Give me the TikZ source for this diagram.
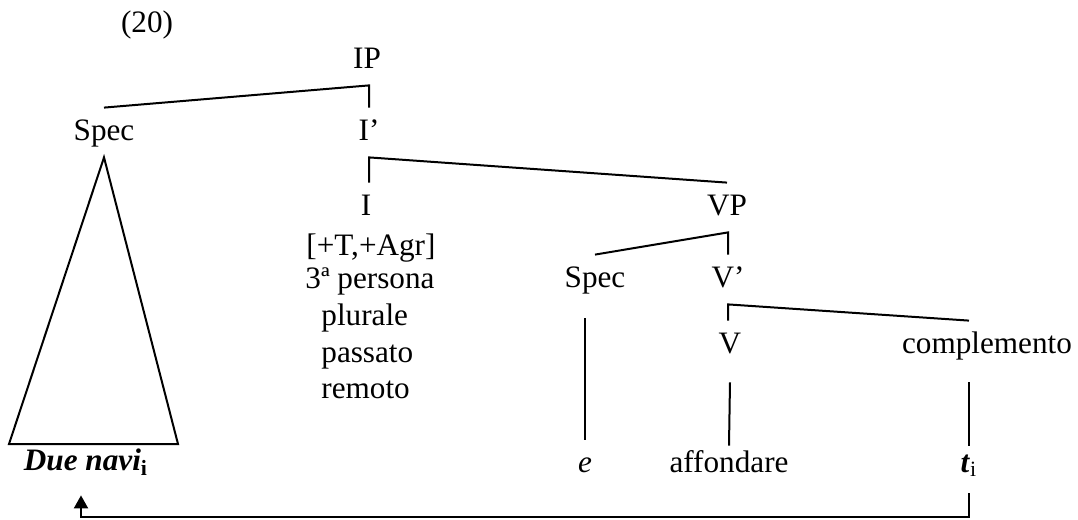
\documentclass[tikz,border=0pt]{standalone}
\usepackage{fontspec}
\setmainfont{Liberation Serif}
\usetikzlibrary{arrows.meta}
\begin{document}
\begin{tikzpicture}[x=0.5pt,y=-0.5pt,
  font=\fontsize{15.6pt}{18pt}\selectfont,
  lbl/.style={anchor=base,inner sep=0pt,text height=16pt,text depth=8.5pt},
  lblw/.style={anchor=base west,inner sep=0pt,text height=16pt,text depth=8.5pt},
  edge/.style={line width=1pt},
  mover/.style={line width=1pt,-{Triangle[width=7pt,length=6.5pt]}}]
\useasboundingbox (0,0) rectangle (1078,520);
% labels
\node[lbl] (num) at (147,32) {(20)};
\node[lbl] (ip) at (367,68) {IP};
\node[lbl] (spec1) at (104,140) {Spec};
\node[lbl] (ibar) at (369,140) {I’};
\node[lbl] (i) at (366,215) {I};
\node[lbl] (f1) at (371,255) {[+T,+Agr]};
\node[lbl] (f2) at (370,288) {3ª persona};
\node[lblw] (f3) at (321,325) {plurale};
\node[lblw] (f4) at (321,362) {passato};
\node[lblw] (f5) at (321,398) {remoto};
\node[lbl] (vp) at (727,215) {VP};
\node[lbl] (spec2) at (595,287) {Spec};
\node[lbl] (vbar) at (728,287) {V’};
\node[lbl] (v) at (730,353) {V};
\node[lbl] (compl) at (987,353) {complemento};
\node[lbl] (due) at (86,470) {\textbf{\textit{Due navi}}\textsubscript{\textbf{i}}};
\node[lbl] (e) at (585,472) {\textit{e}};
\node[lbl] (aff) at (729,472) {affondare};
\node[lbl] (t) at (969,472) {\textbf{\textit{t}}\textsubscript{i}};
% tree branches
\draw[edge] (spec1.north) -- (ibar.north |- ip.south) -- (ibar.north);
\draw[edge] (vp.north) -- (ibar.south) -- (ibar.south |- i.north);
\draw[edge] (spec2.north) -- (vbar.north |- vp.south) -- (vbar.north);
\draw[edge] (compl.north -| t.north) -- (vbar.south) -- (vbar.south |- v.north);
\draw[edge] ([yshift=-7pt]spec2.south -| e.north) -- (e.north);
\draw[edge] ([yshift=-6pt]v.south) -- ([yshift=-3pt]aff.north);
\draw[edge] ([yshift=-6pt]compl.south -| t.north) -- ([yshift=-3pt]t.north);
% triangle
\coordinate (triL) at (9,444);
\coordinate (triR) at (178,444);
\draw[edge,line join=miter] (spec1.south) -- (triR) -- (triL) -- cycle;
% movement arrow
\coordinate (bot) at (0,517);
\draw[mover] ([yshift=-2pt]t.south) -- (t.south |- bot) -| ([xshift=-2.5pt,yshift=-4pt]due.south);
\end{tikzpicture}
\end{document}
